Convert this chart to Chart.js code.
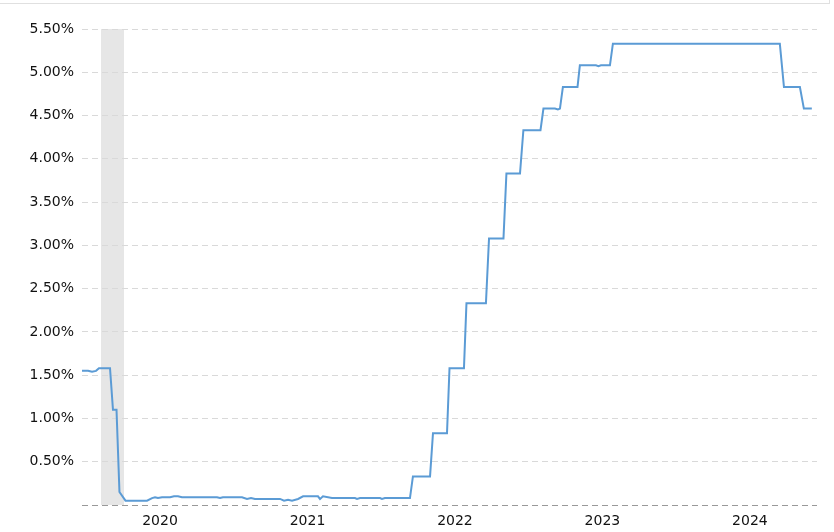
<!DOCTYPE html>
<html>
<head>
<meta charset="utf-8">
<script src="https://cdn.jsdelivr.net/npm/chart.js@4/dist/chart.umd.min.js"></script>
<style>
  body { margin: 0; background: #fff; }
  #wrap { position: relative; width: 834px; height: 532px; overflow: hidden; }
  #frame { position: absolute; left: -1px; top: -10px; width: 829px; height: 12px; border: 1px solid #e0e0e0; }
  canvas { position: absolute; left: 0; top: 0; }
</style>
</head>
<body>
<div id="wrap">
  <div id="frame"></div>
  <canvas id="ratechart" width="834" height="532"></canvas>
</div>
<script>
// dates as decimal years, rates in percent
const dates = [
  2019.971, 2020.012, 2020.039, 2020.066, 2020.086, 2020.161, 2020.181, 2020.205,
  2020.225, 2020.266, 2020.412, 2020.446, 2020.466, 2020.486, 2020.514, 2020.568,
  2020.595, 2020.622, 2020.649, 2020.886, 2020.907, 2020.927, 2021.056, 2021.090,
  2021.117, 2021.144, 2021.314, 2021.341, 2021.368, 2021.395, 2021.436, 2021.470,
  2021.571, 2021.585, 2021.605, 2021.666, 2021.822, 2021.836, 2021.856, 2021.992,
  2022.005, 2022.025, 2022.195, 2022.215, 2022.331, 2022.351, 2022.446, 2022.463,
  2022.561, 2022.578, 2022.710, 2022.731, 2022.829, 2022.849, 2022.941, 2022.964,
  2023.080, 2023.100, 2023.178, 2023.198, 2023.212, 2023.232, 2023.331, 2023.347,
  2023.456, 2023.473, 2023.490, 2023.551, 2023.571, 2024.703, 2024.731, 2024.839,
  2024.866, 2024.920
];
const rates = [
  1.55, 1.55, 1.54, 1.55, 1.58, 1.58, 1.10, 1.10,
  0.15, 0.05, 0.05, 0.08, 0.09, 0.08, 0.09, 0.09,
  0.10, 0.10, 0.09, 0.09, 0.08, 0.09, 0.09, 0.07,
  0.08, 0.07, 0.07, 0.05, 0.06, 0.05, 0.07, 0.10,
  0.10, 0.07, 0.10, 0.08, 0.08, 0.07, 0.08, 0.08,
  0.07, 0.08, 0.08, 0.33, 0.33, 0.83, 0.83, 1.58,
  1.58, 2.33, 2.33, 3.08, 3.08, 3.83, 3.83, 4.33,
  4.33, 4.58, 4.58, 4.57, 4.58, 4.83, 4.83, 5.08,
  5.08, 5.07, 5.08, 5.08, 5.33, 5.33, 4.83, 4.83,
  4.58, 4.58
];
const yearLabels = ['2020', '2021', '2022', '2023', '2024'];
const yearTicks = [2020.5, 2021.5, 2022.5, 2023.5, 2024.5];
const recessionStart = [2020.100];
const recessionEnd = [2020.256];

const xMin = 2019.971;
const xMax = 2024.955;

const recessionBands = {
  id: 'recessionBands',
  beforeDraw(chart) {
    const ctx = chart.ctx;
    const area = chart.chartArea;
    const xs = chart.scales.x;
    ctx.save();
    ctx.fillStyle = '#e6e6e6';
    for (let i = 0; i < recessionStart.length; i++) {
      const x0 = xs.getPixelForValue(recessionStart[i]);
      const x1 = xs.getPixelForValue(recessionEnd[i]);
      ctx.fillRect(x0, area.top, x1 - x0, area.bottom - area.top);
    }
    ctx.restore();
  }
};

const points = dates.map((d, i) => ({ x: d, y: rates[i] }));
const tickFont = { family: 'DejaVu Sans', size: 14 };

new Chart(document.getElementById('ratechart'), {
  type: 'line',
  data: {
    datasets: [{
      data: points,
      borderColor: '#5b9bd5',
      borderWidth: 2,
      pointRadius: 0,
      tension: 0,
      fill: false
    }]
  },
  options: {
    responsive: false,
    animation: false,
    layout: { padding: { top: 29, right: 17, bottom: 0, left: 0 } },
    plugins: { legend: { display: false }, tooltip: { enabled: false } },
    scales: {
      x: {
        type: 'linear',
        min: xMin,
        max: xMax,
        afterBuildTicks(scale) {
          scale.ticks = yearTicks.map(v => ({ value: v }));
        },
        afterFit(scale) { scale.height = 27; },
        grid: { display: false, drawTicks: false },
        border: { display: false },
        ticks: {
          padding: 8,
          color: '#111',
          font: tickFont,
          maxRotation: 0,
          autoSkip: false,
          callback: (v, i) => yearLabels[i]
        }
      },
      y: {
        min: 0,
        max: 5.5,
        afterFit(scale) { scale.width = 82; },
        grid: {
          drawTicks: false,
          color: ctx => ctx.tick && ctx.tick.value === 0 ? '#999999' : '#d9d9d9'
        },
        border: { display: false, dash: [6, 4] },
        ticks: {
          stepSize: 0.5,
          padding: 8,
          color: '#111',
          font: tickFont,
          callback: v => v === 0 ? '' : v.toFixed(2) + '%'
        }
      }
    }
  },
  plugins: [recessionBands]
});
</script>
</body>
</html>
